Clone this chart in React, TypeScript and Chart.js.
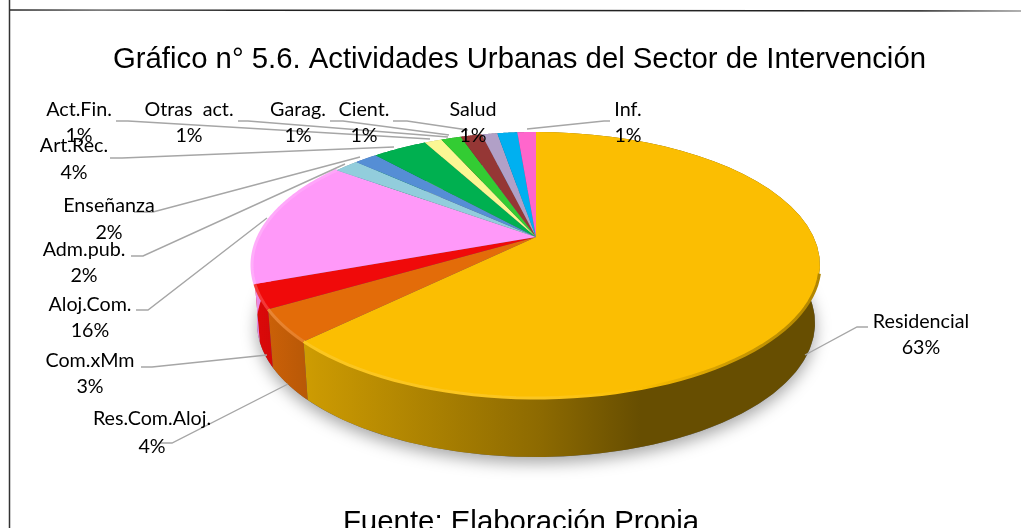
import React, { useEffect, useRef } from "react";
import { Chart, registerables } from "chart.js";

Chart.register(...registerables);

const TITLE = "Gráfico n° 5.6. Actividades Urbanas del Sector de Intervención";
const FOOTER = "Fuente: Elaboración Propia";
const categories = ["Residencial","Res.Com.Aloj.","Com.xMm","Aloj.Com.","Adm.pub.","Enseñanza","Art.Rec.","Act.Fin.","Otras  act.","Garag.","Cient.","Salud","Inf."];
const values = [62.9, 3.9, 2.9, 15.7, 1.7, 1.6, 3.8, 1.2, 1.4, 1.49, 1.1, 1.4, 1.3];
const colors = ["#FBBE02","#E36C09","#F00A0A","#FF99F9","#92CDDC","#558ED5","#00B050","#FBF794","#33CC33","#953735","#B1A0C7","#00B0F0","#FF66CC"];

// Layout of the labels: [centre x, name y, percent y]
const labelPos = [[921,322,348],[152,419,447],[90,361,387],[90,305,331],[84,250,276],[109,206,233],[74,146,173],[79,110,136],[189,110,136],[298,110,136],[364,110,136],[473,110,136],[628,110,136]];
// Leader lines: elbow polylines from label to rim
const leaders = [
  [[868,327],[857,327],[805,355]],
  [[160,443],[172,443],[288,384]],
  [[141,367],[152,367],[267,355]],
  [[136,310],[148,310],[267,218]],
  [[131,256],[143,256],[345,164]],
  [[134,212],[153,212],[360,157]],
  [[110,158],[122,158],[394,147]],
  [[116,121],[128,121],[430,139]],
  [[238,121],[248,121],[448,137]],
  [[330,121],[343,121],[449,135]],
  [[393,121],[407,121],[468,130]],
  [[610,121],[604,121],[527,129]],
];

const TOP = { cx: 536, cy: 265, rx: 284, ry: 133 };
const BOT = { cx: 536, cy: 323, rx: 279, ry: 134 };
const P = -0.21; // perspective shift of the apex

function rimPoint(theta: number, e: typeof TOP) {
  // theta in chart.js convention; -PI/2 = top, clockwise
  const x = Math.cos(theta), t = Math.sin(theta);
  const d = 1 + P * t;
  const xp = (x * Math.sqrt(1 - P * P)) / d;
  const tp = (t + P) / d;
  return [e.cx + xp * e.rx, e.cy + tp * e.ry];
}
const apex = () => [TOP.cx, TOP.cy + P * TOP.ry];

function rgb(hex: string) {
  return [1, 3, 5].map((i) => parseInt(hex.slice(i, i + 2), 16));
}
function scale(c: number[], f: number) {
  return `rgb(${c.map((v) => Math.max(0, Math.min(255, Math.round(f > 1 ? v + (255 - v) * (f - 1) : v * f)))).join(",")})`;
}

const pie3d = {
  id: "pie3d",
  beforeDatasetDraw(chart: any, args: any) {
    const ctx = chart.ctx;
    const arcs = args.meta.data;
    // frame
    ctx.save();
    ctx.lineWidth = 1.5;
    const g = ctx.createLinearGradient(0, 0, 1021, 0);
    g.addColorStop(0, "#222");
    g.addColorStop(0.1, "#666");
    g.addColorStop(0.25, "#222");
    g.addColorStop(0.9, "#222");
    g.addColorStop(1, "#999");
    ctx.strokeStyle = g;
    ctx.beginPath();
    ctx.moveTo(9, 10);
    ctx.lineTo(1021, 11);
    ctx.stroke();
    ctx.strokeStyle = "#333";
    ctx.beginPath();
    ctx.moveTo(9.5, 0);
    ctx.lineTo(9.5, 528);
    ctx.stroke();
    ctx.restore();

    // soft shadow
    ctx.save();
    ctx.shadowColor = "rgba(0,0,0,0.35)";
    ctx.shadowBlur = 16;
    ctx.shadowOffsetY = 6;
    ctx.fillStyle = "#666";
    ctx.beginPath();
    ctx.ellipse(BOT.cx, BOT.cy, BOT.rx, BOT.ry, 0, 0, Math.PI * 2);
    ctx.fill();
    ctx.restore();

    // sides, from the angles the library computed
    const N = 48;
    const fStops: [number, number][] = [[255, 0.92], [303, 0.82], [540, 0.56], [640, 0.41], [820, 0.41]];
    arcs.forEach((arc: any, i: number) => {
      const base = rgb(colors[i]);
      const grad = ctx.createLinearGradient(255, 0, 820, 0);
      fStops.forEach(([x, f]) => grad.addColorStop((x - 255) / 565, scale(base, f)));
      ctx.fillStyle = grad;
      ctx.beginPath();
      const pts: number[][] = [];
      for (let k = 0; k <= N; k++) pts.push(rimPoint(arc.startAngle + ((arc.endAngle - arc.startAngle) * k) / N, TOP));
      const ptsB: number[][] = [];
      for (let k = N; k >= 0; k--) ptsB.push(rimPoint(arc.startAngle + ((arc.endAngle - arc.startAngle) * k) / N, BOT));
      pts.concat(ptsB).forEach(([x, y], j) => (j ? ctx.lineTo(x, y) : ctx.moveTo(x, y)));
      ctx.closePath();
      ctx.fill();
    });

    // top faces
    arcs.forEach((arc: any, i: number) => {
      ctx.fillStyle = colors[i];
      ctx.beginPath();
      const [ax, ay] = apex();
      ctx.moveTo(ax, ay);
      for (let k = 0; k <= N; k++) {
        const [x, y] = rimPoint(arc.startAngle + ((arc.endAngle - arc.startAngle) * k) / N, TOP);
        ctx.lineTo(x, y);
      }
      ctx.closePath();
      ctx.fill();
    });

    // bevel on the front of the rim only
    const bStops: [number, number][] = [[255, 1.2], [303, 1.12], [540, 1.12], [640, 1.0], [740, 0.8], [820, 0.7]];
    arcs.forEach((arc: any, i: number) => {
      const base = rgb(colors[i]);
      const grad = ctx.createLinearGradient(255, 0, 820, 0);
      bStops.forEach(([x, f]) => grad.addColorStop((x - 255) / 565, scale(base, f)));
      ctx.strokeStyle = grad;
      ctx.lineWidth = 3;
      ctx.beginPath();
      let pen = false;
      for (let k = 0; k <= 2 * N; k++) {
        const [x, y] = rimPoint(arc.startAngle + ((arc.endAngle - arc.startAngle) * k) / (2 * N), TOP);
        const show = y > 272 || (i === 3 && x < 536);
        if (!show) { pen = false; continue; }
        if (pen) ctx.lineTo(x, y);
        else ctx.moveTo(x, y);
        pen = true;
      }
      ctx.stroke();
    });

    // leader lines
    ctx.strokeStyle = "#A6A6A6";
    ctx.lineWidth = 1.4;
    leaders.forEach((l) => {
      ctx.beginPath();
      l.forEach(([x, y], j) => (j ? ctx.lineTo(x, y) : ctx.moveTo(x, y)));
      ctx.stroke();
    });

    // labels
    ctx.fillStyle = "#000";
    ctx.font = "19.7px Lato";
    ctx.textAlign = "center";
    ctx.textBaseline = "middle";
    const total = values.reduce((a, b) => a + b, 0);
    categories.forEach((c, i) => {
      const [x, y1, y2] = labelPos[i];
      ctx.fillText(c, x, y1);
      ctx.fillText(`${Math.round((values[i] / total) * 100)}%`, x, y2);
    });

    // footer
    ctx.font = "29.4px 'Liberation Sans'";
    ctx.textBaseline = "alphabetic";
    ctx.fillText(FOOTER, 521, 531);
    return false;
  },
};

export default function App() {
  const ref = useRef<HTMLCanvasElement>(null);
  useEffect(() => {
    const chart = new Chart(ref.current!, {
      type: "pie",
      data: { labels: categories, datasets: [{ data: values, backgroundColor: colors, borderWidth: 0 }] },
      options: {
        animation: false,
        responsive: false,
        layout: { padding: { left: 18 } },
        plugins: {
          legend: { display: false },
          tooltip: { enabled: false },
          title: {
            display: true,
            text: TITLE,
            color: "#000",
            font: { family: "'Liberation Sans'", size: 29.3, weight: "normal" },
            padding: { top: 42, bottom: 10 },
          },
        },
      },
      plugins: [pie3d],
    } as any);
    return () => chart.destroy();
  }, []);
  return (
    <div style={{ position: "absolute", left: 0, top: 0, width: 1021, height: 528, background: "#fff" }}>
      <canvas ref={ref} width={1021} height={528} style={{ display: "block" }} />
    </div>
  );
}
